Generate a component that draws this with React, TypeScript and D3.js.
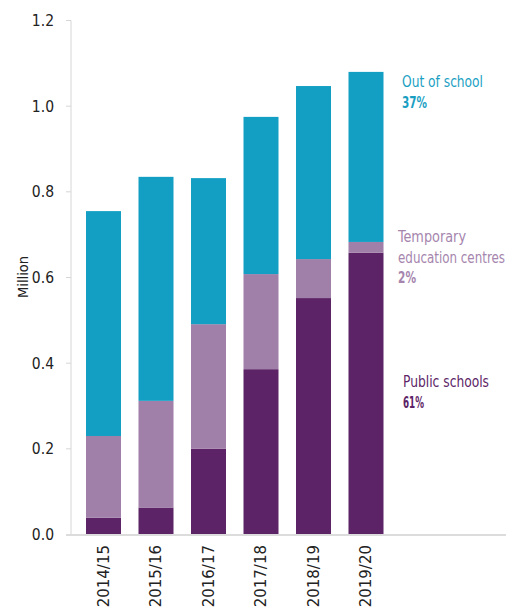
import React from "react";
import * as d3 from "d3";

const categories = ["2014/15", "2015/16", "2016/17", "2017/18", "2018/19", "2019/20"];
const publicSchools = [0.039, 0.063, 0.2, 0.386, 0.552, 0.658];
const temporaryCentres = [0.191, 0.249, 0.291, 0.222, 0.091, 0.025];
const outOfSchool = [0.525, 0.523, 0.341, 0.367, 0.404, 0.397];
const yTicks = [0, 0.2, 0.4, 0.6, 0.8, 1.0, 1.2];
const seriesKeys = ["public", "temporary", "out"];
const seriesColors = ["#5c2466", "#a07fa8", "#129fc3"];
const legendItems = [
  { key: "out", label: ["Out of school"], widths: [81], pct: "37%", pctW: 25, color: "#1a9fc3", x: 402, y: 87 },
  { key: "temporary", label: ["Temporary", "education centres"], widths: [68, 107], pct: "2%", pctW: 18, color: "#a585ad", x: 398, y: 242 },
  { key: "public", label: ["Public schools"], widths: [86], pct: "61%", pctW: 21, color: "#5c2466", x: 403, y: 387 },
];

const W = 509;
const H = 609;

export default function App() {
  const rows = categories.map((c, i) => ({
    cat: c,
    public: publicSchools[i],
    temporary: temporaryCentres[i],
    out: outOfSchool[i],
  }));
  const stack = d3.stack<any>().keys(seriesKeys)(rows);
  const x = d3.scaleBand().domain(categories).range([77.25, 392.25]).paddingInner(1 / 3).paddingOuter(1 / 6);
  const y = d3.scaleLinear().domain([0, 1.2]).range([534.5, 20.5]);

  return (
    <svg width={W} height={H} style={{ position: "absolute", left: 0, top: 0, background: "#fff" }}>
      {/* y axis */}
      <line x1={71} x2={71} y1={y(1.2)} y2={y(0)} stroke="#d6d6d6" strokeWidth={1} />
      {yTicks.map((t) => (
        <g key={t}>
          <line x1={66} x2={71} y1={y(t)} y2={y(t)} stroke="#d6d6d6" strokeWidth={1} />
          <text
            x={54}
            y={y(t)}
            dy="0.36em"
            textAnchor="end"
            fontFamily="'DejaVu Sans', sans-serif"
            style={{ fontStretch: "condensed" }}
            fontSize={15.5}
            fill="#222"
          >
            {t.toFixed(1)}
          </text>
        </g>
      ))}
      <text
        transform={`translate(28,277) rotate(-90)`}
        textAnchor="middle"
        fontFamily="'DejaVu Sans', sans-serif"
        style={{ fontStretch: "condensed" }}
        fontSize={14.5}
        fill="#222"
      >
        Million
      </text>

      {/* bars */}
      {stack.map((s, si) => (
        <g key={s.key} fill={seriesColors[si]}>
          {s.map((d: any, i: number) => (
            <rect
              key={i}
              x={x(categories[i])}
              width={x.bandwidth()}
              y={y(d[1])}
              height={y(d[0]) - y(d[1])}
            />
          ))}
        </g>
      ))}

      {/* baseline */}
      <line x1={66} x2={506} y1={y(0) + 0.5} y2={y(0) + 0.5} stroke="#dcdcdc" strokeWidth={2} />

      {/* x labels */}
      {categories.map((c) => (
        <text
          key={c}
          transform={`translate(${(x(c) as number) + x.bandwidth() / 2 + 5},545) rotate(-90)`}
          textAnchor="end"
          fontFamily="'DejaVu Sans', sans-serif"
          fontSize={15}
          fill="#222"
        >
          {c}
        </text>
      ))}

      {/* legend labels */}
      {legendItems.map((l) => (
        <g key={l.key} fontFamily="'DejaVu Sans', sans-serif" style={{ fontStretch: "condensed" }} fontSize={16} fill={l.color}>
          {l.label.map((line, li) => (
            <text key={li} x={l.x} y={l.y + li * 20.5} textLength={l.widths[li]} lengthAdjust="spacingAndGlyphs">
              {line}
            </text>
          ))}
          <text
            x={l.x}
            y={l.y + l.label.length * 20.5}
            fontWeight="bold"
            textLength={l.pctW}
            lengthAdjust="spacingAndGlyphs"
          >
            {l.pct}
          </text>
        </g>
      ))}
    </svg>
  );
}
